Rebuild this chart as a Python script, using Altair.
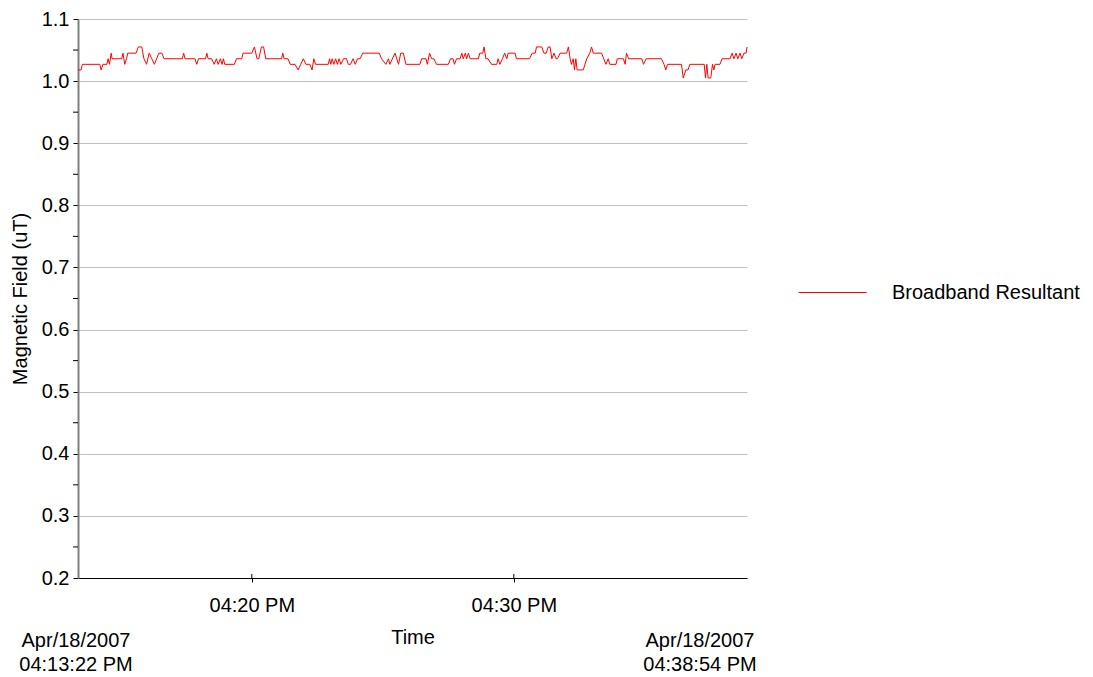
import altair as alt
import pandas as pd

FONT = "Liberation Sans"

# ---- data ----
series_name = "Broadband Resultant"
series_color = "#ff0000"
start_label = "Apr/18/2007\n04:13:22 PM"
end_label = "Apr/18/2007\n04:38:54 PM"
span_secs = 1532  # 04:13:22 PM -> 04:38:54 PM

tick_secs = [398, 998]            # 04:20:00 PM, 04:30:00 PM as seconds after start
tick_labels = ["04:20 PM", "04:30 PM"]

y_major = [0.2, 0.3, 0.4, 0.5, 0.6, 0.7, 0.8, 0.9, 1.0, 1.1]
y_minor = [0.25, 0.35, 0.45, 0.55, 0.65, 0.75, 0.85, 0.95, 1.05]

# seconds after 04:13:22 PM
t_secs = [
    0, 7, 10, 50, 53, 57, 66, 69, 72, 76, 78, 100, 103, 107, 111, 114, 133, 138,
    146, 151, 157, 163, 169, 175, 185, 192, 197, 239, 242, 245, 268, 272, 276,
    292, 295, 298, 306, 312, 317, 321, 326, 330, 333, 336, 358, 363, 375, 378,
    398, 404, 410, 414, 420, 425, 430, 466, 469, 472, 481, 486, 497, 504, 510,
    516, 522, 531, 536, 540, 544, 573, 576, 579, 582, 586, 590, 594, 598, 602,
    608, 615, 619, 624, 630, 635, 640, 646, 652, 690, 695, 705, 711, 714, 726,
    730, 734, 739, 745, 751, 783, 787, 797, 800, 805, 810, 815, 821, 848, 853,
    859, 862, 867, 875, 879, 882, 887, 890, 894, 898, 917, 920, 927, 930, 934,
    939, 947, 959, 962, 966, 972, 977, 982, 985, 1001, 1004, 1034, 1040, 1047,
    1050, 1062, 1067, 1072, 1077, 1081, 1085, 1090, 1095, 1098, 1104, 1119,
    1123, 1127, 1130, 1134, 1137, 1140, 1143, 1147, 1157, 1165, 1172, 1176,
    1180, 1199, 1209, 1214, 1218, 1232, 1235, 1249, 1253, 1256, 1261, 1291,
    1295, 1301, 1336, 1342, 1346, 1350, 1382, 1386, 1392, 1397, 1401, 1434,
    1437, 1440, 1443, 1449, 1453, 1456, 1459, 1470, 1475, 1493, 1498, 1502,
    1507, 1511, 1516, 1520, 1525, 1530, 1532,
]
field_uT = [
    1.018, 1.018, 1.027, 1.027, 1.018, 1.027, 1.027, 1.036, 1.027, 1.045, 1.036,
    1.036, 1.045, 1.027, 1.036, 1.045, 1.045, 1.055, 1.055, 1.036, 1.027, 1.045,
    1.036, 1.027, 1.045, 1.045, 1.036, 1.036, 1.045, 1.036, 1.036, 1.027, 1.036,
    1.036, 1.045, 1.036, 1.036, 1.027, 1.036, 1.027, 1.036, 1.027, 1.036, 1.027,
    1.027, 1.036, 1.036, 1.045, 1.045, 1.055, 1.036, 1.036, 1.055, 1.055, 1.036,
    1.036, 1.045, 1.036, 1.036, 1.027, 1.027, 1.018, 1.027, 1.036, 1.027, 1.027,
    1.018, 1.036, 1.027, 1.027, 1.036, 1.027, 1.036, 1.027, 1.036, 1.027, 1.036,
    1.027, 1.036, 1.036, 1.027, 1.027, 1.036, 1.027, 1.036, 1.036, 1.045, 1.045,
    1.036, 1.027, 1.036, 1.027, 1.045, 1.036, 1.027, 1.045, 1.045, 1.027, 1.027,
    1.036, 1.036, 1.027, 1.045, 1.036, 1.036, 1.027, 1.027, 1.036, 1.036, 1.027,
    1.036, 1.036, 1.045, 1.036, 1.045, 1.036, 1.045, 1.036, 1.036, 1.045, 1.045,
    1.055, 1.036, 1.036, 1.027, 1.027, 1.036, 1.027, 1.036, 1.045, 1.036, 1.045,
    1.045, 1.036, 1.036, 1.045, 1.045, 1.055, 1.055, 1.045, 1.045, 1.055, 1.055,
    1.036, 1.045, 1.036, 1.036, 1.045, 1.045, 1.055, 1.036, 1.027, 1.036, 1.018,
    1.036, 1.018, 1.018, 1.018, 1.036, 1.045, 1.055, 1.045, 1.045, 1.027, 1.036,
    1.027, 1.027, 1.036, 1.036, 1.027, 1.045, 1.036, 1.036, 1.027, 1.036, 1.036,
    1.027, 1.018, 1.027, 1.027, 1.005, 1.018, 1.018, 1.027, 1.027, 1.005, 1.027,
    1.005, 1.005, 1.027, 1.018, 1.027, 1.027, 1.036, 1.036, 1.045, 1.036, 1.045,
    1.036, 1.045, 1.036, 1.045, 1.045, 1.055,
]

df = pd.DataFrame({"t": t_secs, "v": field_uT, "series": series_name})
minor_df = pd.DataFrame({"v": y_minor})
ticks_df = pd.DataFrame({"t": tick_secs})
start_df = pd.DataFrame({"t": [0], "label": [start_label]})
end_df = pd.DataFrame({"t": [span_secs], "label": [end_label]})

W, H = 669, 559

xscale = alt.Scale(domain=[0, span_secs], nice=False, zero=False)
yscale = alt.Scale(domain=[y_major[0], y_major[-1]], nice=False, zero=False)

label_expr = "".join(
    f"datum.value == {s} ? '{l}' : " for s, l in zip(tick_secs, tick_labels)
) + "''"

x_axis = alt.Axis(
    values=tick_secs, labelExpr=label_expr, title="Time", grid=False,
    domainColor="black", domainWidth=1, tickColor="black", tickSize=4,
    labelFont=FONT, labelFontSize=20, labelColor="black", labelPadding=13,
    labelFlush=False, labelOverlap=False,
    titleFont=FONT, titleFontSize=20, titleFontWeight="normal",
    titleColor="black", titleBaseline="alphabetic", titleY=65,
)
y_axis = alt.Axis(
    values=y_major, format=".1f", title="Magnetic Field (uT)",
    grid=True, gridColor="#c0c0c0", gridWidth=1,
    domainColor="#808080", domainWidth=2, tickColor="black", tickSize=5,
    labelFont=FONT, labelFontSize=20, labelColor="black", labelPadding=4,
    titleFont=FONT, titleFontSize=20, titleFontWeight="normal",
    titleColor="black", titleBaseline="alphabetic", titleX=-52,
    titleY=H / 2,
)

X = alt.X("t:Q", scale=xscale, axis=x_axis)
Y = alt.Y("v:Q", scale=yscale, axis=y_axis)

line = alt.Chart(df).mark_line(strokeWidth=1, interpolate="linear").encode(
    x=X, y=Y,
    color=alt.Color(
        "series:N", scale=alt.Scale(range=[series_color]),
        legend=alt.Legend(
            orient="none", legendX=720, legendY=239, title=None,
            symbolType="stroke", symbolSize=4624, symbolStrokeWidth=1,
            symbolStrokeColor=series_color,
            labelFont=FONT, labelFontSize=20, labelColor="black",
            labelOffset=25, padding=0, labelLimit=400,
        ),
    ),
)

minor = alt.Chart(minor_df).mark_rule(color="black", strokeWidth=1).encode(
    y=Y, x=alt.value(-5), x2=alt.value(0),
)

xticks_up = alt.Chart(ticks_df).mark_rule(color="black", strokeWidth=1).encode(
    x=X, y=alt.value(H - 4), y2=alt.value(H),
)

text_kw = dict(baseline="alphabetic", lineBreak="\n", lineHeight=24,
               font=FONT, fontSize=20, color="black")
start_txt = alt.Chart(start_df).mark_text(align="center", dx=-2, **text_kw).encode(
    x=X, y=alt.value(628), text="label:N",
)
end_txt = alt.Chart(end_df).mark_text(align="center", dx=-47, **text_kw).encode(
    x=X, y=alt.value(628), text="label:N",
)

chart = alt.layer(line, minor, xticks_up, start_txt, end_txt).properties(
    width=W, height=H,
    autosize=alt.AutoSizeParams(type="none"),
    padding={"left": 70, "top": 11, "right": 338, "bottom": 98},
    background="white",
).configure_view(stroke=None)

chart.save("out.html", embed_options={"renderer": "svg", "actions": False})
